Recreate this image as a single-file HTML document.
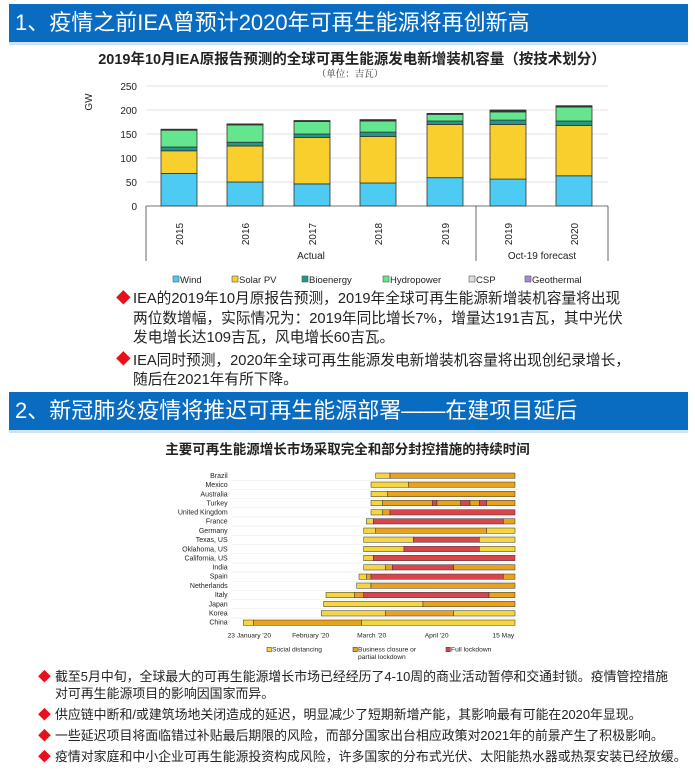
<!DOCTYPE html>
<html><head><meta charset="utf-8"><style>
body{margin:0;width:695px;height:775px;background:#fff;position:relative;overflow:hidden;font-family:"Liberation Sans","Noto Sans CJK SC",sans-serif;}
.hdr{position:absolute;left:9px;width:679px;background:#0a6cc0;color:#fff;font-size:22px;line-height:38px;padding-left:6px;box-sizing:border-box;border-bottom:3px solid #cfe3f5;}
.b{position:absolute;color:#222;white-space:nowrap;}
.d{color:#e8101a;position:absolute;}
</style></head><body>
<div class="hdr" style="top:4px;height:41px;">1、疫情之前IEA曾预计2020年可再生能源将再创新高</div>
<div class="hdr" style="top:392px;height:41px;">2、新冠肺炎疫情将推迟可再生能源部署——在建项目延后</div>

<svg style="position:absolute;left:0;top:0" width="695" height="300">
<text x="352" y="64" text-anchor="middle" font-size="14.5" font-weight="bold" fill="#222">2019年10月IEA原报告预测的全球可再生能源发电新增装机容量（按技术划分）</text>
<text x="350" y="77" text-anchor="middle" font-size="9.5" fill="#333" font-family="Noto Serif CJK SC,serif">（单位：吉瓦）</text>
<g stroke="#e3e3e3" stroke-width="1">
<line x1="146" x2="608" y1="86" y2="86"/><line x1="146" x2="608" y1="110" y2="110"/><line x1="146" x2="608" y1="134" y2="134"/><line x1="146" x2="608" y1="158" y2="158"/><line x1="146" x2="608" y1="182" y2="182"/>
</g>
<g font-size="10" fill="#222" text-anchor="end">
<text x="137" y="90">250</text><text x="137" y="114">200</text><text x="137" y="138">150</text><text x="137" y="162">100</text><text x="137" y="186">50</text><text x="137" y="210">0</text>
</g>
<text transform="translate(92,102) rotate(-90)" font-size="10" fill="#222" text-anchor="middle">GW</text>
<g stroke="#333" stroke-width="0.8">
<g transform="translate(161,0)"><rect x="0" y="173.4" width="36" height="32.6" fill="#4dcbf2"/><rect x="0" y="150.8" width="36" height="22.6" fill="#f9cf2d"/><rect x="0" y="147" width="36" height="3.8" fill="#1e9a86"/><rect x="0" y="130.2" width="36" height="16.8" fill="#63e68e"/><rect x="0" y="129.2" width="36" height="1" fill="#333"/></g>
<g transform="translate(227,0)"><rect x="0" y="182" width="36" height="24" fill="#4dcbf2"/><rect x="0" y="146" width="36" height="36" fill="#f9cf2d"/><rect x="0" y="142.2" width="36" height="3.8" fill="#1e9a86"/><rect x="0" y="124.9" width="36" height="17.3" fill="#63e68e"/><rect x="0" y="123.9" width="36" height="1" fill="#333"/></g>
<g transform="translate(294,0)"><rect x="0" y="183.9" width="36" height="22.1" fill="#4dcbf2"/><rect x="0" y="137.4" width="36" height="46.5" fill="#f9cf2d"/><rect x="0" y="134" width="36" height="3.4" fill="#1e9a86"/><rect x="0" y="121.5" width="36" height="12.5" fill="#63e68e"/><rect x="0" y="120.5" width="36" height="1" fill="#333"/></g>
<g transform="translate(360,0)"><rect x="0" y="183" width="36" height="23" fill="#4dcbf2"/><rect x="0" y="136.4" width="36" height="46.6" fill="#f9cf2d"/><rect x="0" y="132.1" width="36" height="4.3" fill="#1e9a86"/><rect x="0" y="121" width="36" height="11.1" fill="#63e68e"/><rect x="0" y="119.6" width="36" height="1.4" fill="#333"/></g>
<g transform="translate(427,0)"><rect x="0" y="177.7" width="36" height="28.3" fill="#4dcbf2"/><rect x="0" y="124.4" width="36" height="53.3" fill="#f9cf2d"/><rect x="0" y="121" width="36" height="3.4" fill="#1e9a86"/><rect x="0" y="114.3" width="36" height="6.7" fill="#63e68e"/><rect x="0" y="113.4" width="36" height="1" fill="#333"/></g>
<g transform="translate(490,0)"><rect x="0" y="179.1" width="36" height="26.9" fill="#4dcbf2"/><rect x="0" y="124.4" width="36" height="54.7" fill="#f9cf2d"/><rect x="0" y="120.1" width="36" height="4.3" fill="#1e9a86"/><rect x="0" y="111.9" width="36" height="8.2" fill="#63e68e"/><rect x="0" y="110" width="36" height="1.9" fill="#333"/></g>
<g transform="translate(556,0)"><rect x="0" y="175.8" width="36" height="30.2" fill="#4dcbf2"/><rect x="0" y="125.4" width="36" height="50.4" fill="#f9cf2d"/><rect x="0" y="121" width="36" height="4.4" fill="#1e9a86"/><rect x="0" y="107.1" width="36" height="13.9" fill="#63e68e"/><rect x="0" y="105.7" width="36" height="1.4" fill="#333"/></g>
</g>
<g stroke="#444" stroke-width="0.8" fill="none">
<line x1="146" x2="608" y1="206" y2="206"/><line x1="146" x2="146" y1="206" y2="261"/><line x1="476" x2="476" y1="206" y2="261"/><line x1="608" x2="608" y1="206" y2="261"/>
</g>
<g font-size="10" fill="#222">
<text transform="translate(183,234) rotate(-90)" text-anchor="middle">2015</text>
<text transform="translate(249,234) rotate(-90)" text-anchor="middle">2016</text>
<text transform="translate(316,234) rotate(-90)" text-anchor="middle">2017</text>
<text transform="translate(382,234) rotate(-90)" text-anchor="middle">2018</text>
<text transform="translate(449,234) rotate(-90)" text-anchor="middle">2019</text>
<text transform="translate(512,234) rotate(-90)" text-anchor="middle">2019</text>
<text transform="translate(578,234) rotate(-90)" text-anchor="middle">2020</text>
<text x="311" y="259" text-anchor="middle">Actual</text>
<text x="542" y="259" text-anchor="middle">Oct-19 forecast</text>
</g>
<g font-size="9.5" fill="#222" stroke="#555" stroke-width="0.6">
<rect x="173" y="276" width="6" height="6" fill="#4dcbf2"/><text x="180" y="283" stroke="none">Wind</text>
<rect x="232" y="276" width="6" height="6" fill="#f9cf2d"/><text x="239" y="283" stroke="none">Solar PV</text>
<rect x="302" y="276" width="6" height="6" fill="#1e9a86"/><text x="309" y="283" stroke="none">Bioenergy</text>
<rect x="383" y="276" width="6" height="6" fill="#63e68e"/><text x="390" y="283" stroke="none">Hydropower</text>
<rect x="469" y="276" width="6" height="6" fill="#ddd"/><text x="476" y="283" stroke="none">CSP</text>
<rect x="525" y="276" width="6" height="6" fill="#a98ad8"/><text x="532" y="283" stroke="none">Geothermal</text>
</g>
</svg>

<div class="b" style="left:116px;top:290px;font-size:14.7px;line-height:19.5px;">
<span class="d" style="left:0;top:0">◆</span><div style="margin-left:17px">IEA的2019年10月原报告预测，2019年全球可再生能源新增装机容量将出现<br>两位数增幅，实际情况为：2019年同比增长7%，增量达191吉瓦，其中光伏<br>发电增长达109吉瓦，风电增长60吉瓦。</div>
<span class="d" style="left:0;top:61px">◆</span><div style="margin-left:17px;margin-top:3px">IEA同时预测，2020年全球可再生能源发电新增装机容量将出现创纪录增长，<br>随后在2021年有所下降。</div>
</div>

<div class="b" style="left:0;width:695px;text-align:center;top:438px;font-size:13.5px;font-weight:bold;">主要可再生能源增长市场采取完全和部分封控措施的持续时间</div>

<svg style="position:absolute;left:160px;top:460px" width="370" height="200" viewBox="-90 0 1110 600">
<g stroke="#eee" stroke-width="2">
<line x1="125" x2="980" y1="61" y2="61"/><line x1="125" x2="980" y1="88" y2="88"/><line x1="125" x2="980" y1="116" y2="116"/><line x1="125" x2="980" y1="143" y2="143"/><line x1="125" x2="980" y1="171" y2="171"/><line x1="125" x2="980" y1="198" y2="198"/><line x1="125" x2="980" y1="226" y2="226"/><line x1="125" x2="980" y1="254" y2="254"/><line x1="125" x2="980" y1="281" y2="281"/><line x1="125" x2="980" y1="309" y2="309"/><line x1="125" x2="980" y1="336" y2="336"/><line x1="125" x2="980" y1="364" y2="364"/><line x1="125" x2="980" y1="391" y2="391"/><line x1="125" x2="980" y1="419" y2="419"/><line x1="125" x2="980" y1="446" y2="446"/><line x1="125" x2="980" y1="474" y2="474"/>
</g>
<g font-size="21" fill="#222" text-anchor="end">
<text x="113" y="54">Brazil</text><text x="113" y="81">Mexico</text><text x="113" y="109">Australia</text><text x="113" y="136">Turkey</text><text x="113" y="164">United Kingdom</text><text x="113" y="191">France</text><text x="113" y="219">Germany</text><text x="113" y="246">Texas, US</text><text x="113" y="274">Oklahoma, US</text><text x="113" y="301">California, US</text><text x="113" y="329">India</text><text x="113" y="356">Spain</text><text x="113" y="384">Netherlands</text><text x="113" y="411">Italy</text><text x="113" y="439">Japan</text><text x="113" y="466">Korea</text><text x="113" y="494">China</text>
</g>
<g stroke="#333" stroke-width="1.5">
<g transform="translate(0,39)"><rect x="557" width="43" height="16" fill="#f5d540"/><rect x="600" width="375" height="16" fill="#e9a21d"/></g>
<g transform="translate(0,66)"><rect x="543" width="112" height="16" fill="#f5d540"/><rect x="655" width="320" height="16" fill="#e9a21d"/></g>
<g transform="translate(0,94)"><rect x="543" width="49" height="16" fill="#f5d540"/><rect x="592" width="383" height="16" fill="#e9a21d"/></g>
<g transform="translate(0,121)"><rect x="543" width="35" height="16" fill="#f5d540"/><rect x="578" width="149" height="16" fill="#e9a21d"/><rect x="727" width="14" height="16" fill="#da444b"/><rect x="741" width="71" height="16" fill="#e9a21d"/><rect x="812" width="28" height="16" fill="#da444b"/><rect x="840" width="28" height="16" fill="#e9a21d"/><rect x="868" width="22" height="16" fill="#da444b"/><rect x="890" width="85" height="16" fill="#e9a21d"/></g>
<g transform="translate(0,149)"><rect x="543" width="35" height="16" fill="#f5d540"/><rect x="578" width="22" height="16" fill="#e9a21d"/><rect x="600" width="375" height="16" fill="#da444b"/></g>
<g transform="translate(0,176)"><rect x="529" width="21" height="16" fill="#f5d540"/><rect x="550" width="390" height="16" fill="#da444b"/><rect x="940" width="35" height="16" fill="#e9a21d"/></g>
<g transform="translate(0,204)"><rect x="521" width="36" height="16" fill="#f5d540"/><rect x="557" width="333" height="16" fill="#e9a21d"/><rect x="890" width="85" height="16" fill="#f5d540"/></g>
<g transform="translate(0,231)"><rect x="521" width="149" height="16" fill="#f5d540"/><rect x="670" width="198" height="16" fill="#da444b"/><rect x="868" width="107" height="16" fill="#f5d540"/></g>
<g transform="translate(0,259)"><rect x="521" width="121" height="16" fill="#f5d540"/><rect x="642" width="226" height="16" fill="#da444b"/><rect x="868" width="107" height="16" fill="#f5d540"/></g>
<g transform="translate(0,286)"><rect x="521" width="29" height="16" fill="#f5d540"/><rect x="550" width="425" height="16" fill="#da444b"/></g>
<g transform="translate(0,314)"><rect x="521" width="65" height="16" fill="#f5d540"/><rect x="586" width="21" height="16" fill="#e9a21d"/><rect x="607" width="184" height="16" fill="#da444b"/><rect x="791" width="184" height="16" fill="#e9a21d"/></g>
<g transform="translate(0,342)"><rect x="507" width="22" height="16" fill="#f5d540"/><rect x="529" width="14" height="16" fill="#e9a21d"/><rect x="543" width="397" height="16" fill="#da444b"/><rect x="940" width="35" height="16" fill="#e9a21d"/></g>
<g transform="translate(0,369)"><rect x="500" width="43" height="16" fill="#f5d540"/><rect x="543" width="432" height="16" fill="#e9a21d"/></g>
<g transform="translate(0,397)"><rect x="408" width="85" height="16" fill="#f5d540"/><rect x="493" width="28" height="16" fill="#e9a21d"/><rect x="521" width="376" height="16" fill="#da444b"/><rect x="897" width="78" height="16" fill="#e9a21d"/></g>
<g transform="translate(0,424)"><rect x="401" width="298" height="16" fill="#f5d540"/><rect x="699" width="276" height="16" fill="#e9a21d"/></g>
<g transform="translate(0,452)"><rect x="394" width="192" height="16" fill="#f5d540"/><rect x="586" width="205" height="16" fill="#e9a21d"/><rect x="791" width="184" height="16" fill="#f5d540"/></g>
<g transform="translate(0,480)"><rect x="160" width="30" height="16" fill="#f5d540"/><rect x="190" width="325" height="16" fill="#e9a21d"/><rect x="515" width="460" height="16" fill="#f5d540"/></g>
</g>
<g font-size="20" fill="#222" text-anchor="middle">
<text x="178" y="533">23 January '20</text><text x="362" y="533">February '20</text><text x="545" y="533">March '20</text><text x="740" y="533">April '20</text><text x="940" y="533">15 May</text>
</g>
<g font-size="20" fill="#222" stroke="#333" stroke-width="1.5">
<rect x="231" y="562" width="13" height="13" fill="#f5d540"/><text x="246" y="575" stroke="none">Social distancing</text>
<rect x="489" y="562" width="13" height="13" fill="#e9a21d"/><text x="504" y="575" stroke="none">Business closure or</text><text x="504" y="597" stroke="none">partial lockdown</text>
<rect x="768" y="562" width="13" height="13" fill="#da444b"/><text x="783" y="575" stroke="none">Full lockdown</text>
</g>
</svg>

<div class="b" style="left:38px;top:668px;font-size:12.9px;line-height:17px;">
<div style="position:relative;padding-left:17px"><span class="d" style="left:0;top:0">◆</span>截至5月中旬，全球最大的可再生能源增长市场已经经历了4-10周的商业活动暂停和交通封锁。疫情管控措施<br>对可再生能源项目的影响因国家而异。</div>
<div style="position:relative;padding-left:17px;margin-top:4px"><span class="d" style="left:0;top:0">◆</span>供应链中断和/或建筑场地关闭造成的延迟，明显减少了短期新增产能，其影响最有可能在2020年显现。</div>
<div style="position:relative;padding-left:17px;margin-top:4px"><span class="d" style="left:0;top:0">◆</span>一些延迟项目将面临错过补贴最后期限的风险，而部分国家出台相应政策对2021年的前景产生了积极影响。</div>
<div style="position:relative;padding-left:17px;margin-top:4px"><span class="d" style="left:0;top:0">◆</span>疫情对家庭和中小企业可再生能源投资构成风险，许多国家的分布式光伏、太阳能热水器或热泵安装已经放缓。</div>
</div>
</body></html>
